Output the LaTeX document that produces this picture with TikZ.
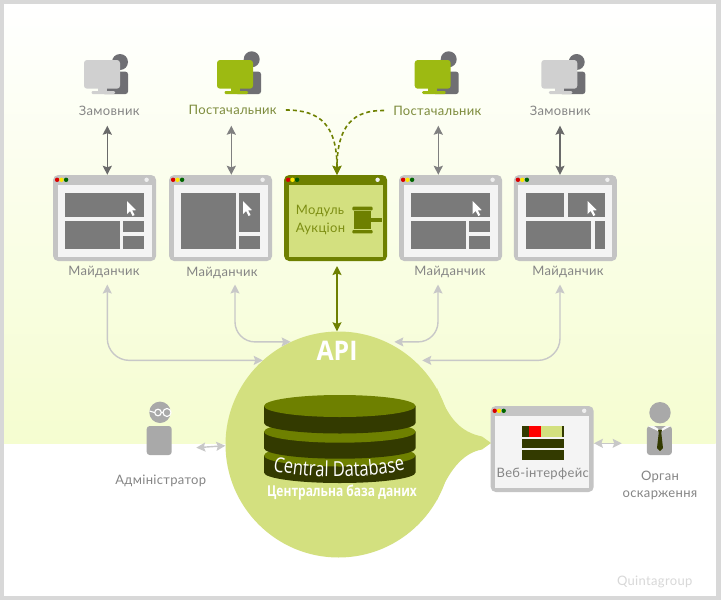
\documentclass[tikz,border=0pt]{standalone}
\usepackage{fontspec}
\setmainfont{Lato}
\newfontfamily\lblfont{Lato}[LetterSpace=2.5]
\newfontfamily\condfont{Open Sans}[FakeStretch=0.8]
\newfontfamily\apifont{Open Sans}[FakeStretch=0.92]
\usetikzlibrary{arrows.meta,decorations.text,calc}
\definecolor{frameC}{HTML}{D8D8D8}
\definecolor{bgC}{HTML}{F5FDD0}
\definecolor{winC}{HTML}{C4C4C4}
\definecolor{innerC}{HTML}{F4F4F4}
\definecolor{panelC}{HTML}{7A7A7A}
\definecolor{oliveC}{HTML}{6E8000}
\definecolor{limeC}{HTML}{D3E07F}
\definecolor{greenC}{HTML}{9DBA12}
\definecolor{monC}{HTML}{D0D0D0}
\definecolor{persC}{HTML}{6F6F73}
\definecolor{txtC}{HTML}{858585}
\definecolor{txtG}{HTML}{7D8B3C}
\definecolor{arrC}{HTML}{6A6A6A}
\definecolor{lightArr}{HTML}{C8C8C8}
\definecolor{darkDisk}{HTML}{333A00}
\definecolor{manC}{HTML}{A9A9A9}
\tikzset{
  lbl/.style={inner sep=0pt,font=\lblfont\fontsize{13}{17}\selectfont,text=txtC,align=center},
  lblg/.style={lbl,text=txtG},
  winbox/.style={draw=none,fill=winC,rounded corners=5pt,minimum width=103pt,minimum height=86pt,inner sep=0pt},
  modbox/.style={winbox,fill=oliveC},
  webbox/.style={winbox},
  panel/.style={fill=panelC},
  darr/.style={draw=arrC,line width=1.4pt,{Stealth[length=9pt,width=9pt,inset=1.5pt]}-{Stealth[length=9pt,width=9pt,inset=1.5pt]}},
  garr/.style={draw=lightArr,line width=1.4pt,rounded corners=22pt,{Stealth[length=9pt,width=9pt,inset=1.5pt]}-{Stealth[length=9pt,width=9pt,inset=1.5pt]}},
  harr/.style={draw=lightArr,line width=1.4pt,{Stealth[length=9pt,width=9pt,inset=1.5pt]}-{Stealth[length=9pt,width=9pt,inset=1.5pt]}},
  oarr/.style={draw=oliveC,line width=1.6pt,{Stealth[length=9pt,width=9pt,inset=1.5pt]}-{Stealth[length=9pt,width=9pt,inset=1.5pt]}},
  dasharr/.style={draw=oliveC,line width=1.6pt,dash pattern=on 4pt off 3pt,-{Stealth[length=9pt,width=9pt,inset=1.5pt]}},
}
\newcommand\wchrome[3]{%
  \fill[#2] ($(#1.south west)+(4.7,-4.5)$) rectangle ($(#1.north east)+(-4.7,10)$);
  \fill[red!85!black] ($(#1.north west)+(4.2,5)$) circle (2.2);
  \fill[yellow!90!orange] ($(#1.north west)+(8.6,5)$) circle (2.2);
  \fill[#3] ($(#1.north west)+(13.2,5)$) circle (2.2);
  \fill[innerC!90!winC] ($(#1.north east)+(-9.7,5)$) circle (2.2);
}
\newcommand\monitorfig[4]{%
  \fill[persC] (#3,#4) circle (8);
  \fill[persC,rounded corners=2.5pt] (#1+18,71.7) rectangle (#1+44,94);
  \fill[#2,rounded corners=3pt] (#1,60) rectangle (#1+36,88.7);
  \fill[#2] (#1+13.5,88) rectangle (#1+22.5,91.5);
  \fill[#2,rounded corners=1.2pt] (#1+7.5,91) rectangle (#1+31,94);
}
\newcommand\cursorat[2]{%
  \fill[white] (#1,#2) -- ++(0,13) -- ++(3,-3) -- ++(2.6,5) -- ++(2,-1) -- ++(-2.5,-4.6) -- ++(4,-.2) -- cycle;
}
\newcommand\diskfig[2]{%
  \fill[darkDisk] (264,#1) -- (264,#1+#2) arc[start angle=180,end angle=360,x radius=75.8,y radius=-10.5] -- (415.6,#1) -- cycle;
  \fill[oliveC] (339.8,#1) ellipse[x radius=75.8,y radius=11];
}
\begin{document}
\begin{tikzpicture}[x=1pt,y=-1pt]
\useasboundingbox (0,0) rectangle (721,600);
\fill[frameC] (0,0) rectangle (721,600);
\fill[white] (4,4) rectangle (715.5,596);
\shade[top color=white,bottom color=bgC] (4,4) rectangle (715.5,443);
% circle with tail
\node[circle,fill=limeC,minimum size=226pt,inner sep=0pt] (api) at (338.5,444.5) {};
\fill[limeC] (437,388) .. controls (448,418) and (460,432) .. (482,436.5) -- (491,443) -- (482,449.5) .. controls (462,453) and (448,472) .. (437,500) -- cycle;
\node[inner sep=0pt,font=\apifont\bfseries\fontsize{27}{27}\selectfont,text=white] (apit) at (337,351) {API};
% database
\diskfig{455.5}{17}
\diskfig{431.7}{16.5}
\diskfig{406}{17}
\path[decorate,decoration={text along path,text align=center,text={|\condfont\fontsize{20.7}{21}\selectfont\color{white}|Central Database}}] (268,470) .. controls (310,479) and (370,479) .. (410,469);
\node[inner sep=0pt,font=\condfont\bfseries\fontsize{15}{16}\selectfont,text=white] (cdb) at (342,493) {Центральна база даних};
% monitors
\monitorfig{84}{monC}{120}{62}
\monitorfig{217}{greenC}{251.7}{59.3}
\monitorfig{414.7}{greenC}{448.7}{59.3}
\monitorfig{541.3}{monC}{576.7}{62}
\node[lbl] (z1) at (109.3,110.5) {Замовник};
\node[lblg] (p2) at (232.7,110) {Постачальник};
\node[lblg] (p3) at (437.3,110.5) {Постачальник};
\node[lbl] (z4) at (560.3,110.5) {Замовник};
% windows
\node[winbox] (w1) at (104.6,218) {};
\node[winbox] (w2) at (220.6,218) {};
\node[modbox] (m) at (335.6,218) {};
\node[winbox] (w4) at (450.6,218) {};
\node[winbox] (w5) at (565.4,218) {};
\wchrome{w1}{innerC}{green!40!black}
\wchrome{w2}{innerC}{green!40!black}
\wchrome{m}{limeC}{green!35!black}
\wchrome{w4}{innerC}{green!40!black}
\wchrome{w5}{innerC}{green!40!black}
\fill[panel] (65,193) rectangle (144.3,217);
\fill[panel] (65,221) rectangle (119.7,249);
\fill[panel] (123.3,221) rectangle (144.3,232);
\fill[panel] (123.3,236) rectangle (144.3,249);
\cursorat{127}{201}
\fill[panel] (180.7,193) rectangle (235.7,249);
\fill[panel] (239.3,193) rectangle (260.3,232);
\fill[panel] (239.3,236) rectangle (260.3,249);
\cursorat{243}{201}
\fill[panel] (410.7,193) rectangle (490.3,217);
\fill[panel] (410.7,221) rectangle (465.7,249);
\fill[panel] (469.3,221) rectangle (490.3,232);
\fill[panel] (469.3,236) rectangle (490.3,249);
\cursorat{472.7}{201}
\fill[panel] (525.7,193) rectangle (564,217);
\fill[panel] (567.7,193) rectangle (605,217);
\fill[panel] (525.7,221) rectangle (591,249);
\fill[panel] (594.7,221) rectangle (605,249);
\cursorat{587.7}{201}
% module contents
\node[lblg,text=oliveC!85!limeC,align=left,anchor=west,font=\lblfont\fontsize{13}{18.3}\selectfont] (mt) at (295.7,219.8) {Модуль\\Аукціон};
\fill[oliveC,rounded corners=1pt] (352.3,206.7) rectangle (372.7,210.3);
\fill[oliveC] (354,211) rectangle (371,228.7);
\fill[oliveC] (371,217.7) rectangle (382,222.3);
\fill[oliveC,rounded corners=1pt] (352.3,230) rectangle (372.7,233.3);
% window labels
\node[lbl] (l1) at (104,271.7) {Майданчик};
\node[lbl] (l2) at (222,272.7) {Майданчик};
\node[lbl] (l4) at (450,271.7) {Майданчик};
\node[lbl] (l5) at (568,271.7) {Майданчик};
% vertical arrows
\coordinate (a1) at (107.3,125.7);
\coordinate (a2) at (231.3,125.7);
\coordinate (a4) at (438.3,125.7);
\coordinate (a5) at (560,125.7);
\draw[darr] (a1) -- (a1 |- w1.north);
\draw[darr,draw=arrC!85!white] (a2) -- (a2 |- w2.north);
\draw[darr,draw=arrC!85!white] (a4) -- (a4 |- w4.north);
\draw[darr] (a5) -- (a5 |- w5.north);
% dashed
\coordinate (dt) at (337,175);
\draw[dasharr] ([xshift=9pt]p2.east) .. controls (320,110) and (337,125) .. (dt |- m.north);
\draw[dasharr] ([xshift=-9pt]p3.west) .. controls (354,110) and (337,125) .. (dt |- m.north);
% module to API
\coordinate (mb) at (337,266);
\draw[oarr] (mb) -- (mb |- api.north);
% gray curved arrows
\coordinate (g1) at (107.3,284.5);
\coordinate (g2) at (235,284.5);
\coordinate (g4) at (438,284.5);
\coordinate (g5) at (560,284.5);
\draw[garr] (g1) |- (api.132);
\draw[garr,rounded corners=20pt] (g2) |- (api.115);
\draw[garr,rounded corners=20pt] (g4) |- ([xshift=8pt]api.65);
\draw[garr] (g5) |- ([xshift=8pt]api.48);
% admin
\node[circle,fill=manC,minimum size=21.4pt,inner sep=0pt] (ah) at (160,412.3) {};
\node[fill=manC,rounded corners=3pt,minimum width=25pt,minimum height=29pt,inner sep=0pt] (ab) at (159.2,440.5) {};
\draw[white,line width=1.1pt] (149.5,411) -- (154.5,412.5) (158,412.5) circle (3.3) (161.3,412.5) -- (163,412.5) (167,412.5) circle (4);
\node[lbl] (al) at (160.7,480.7) {Адміністратор};
\draw[harr] ([xshift=-29pt,yshift=-3.2pt]api.west) -- ([yshift=-1.2pt]api.west);
% web interface
\node[webbox] (web) at (542.2,449) {};
\wchrome{web}{innerC}{green!40!black}
\fill[darkDisk] (522,426) rectangle (564,437.3);
\fill[red] (529.3,426) rectangle (541.3,437.3);
\fill[limeC] (541.3,426) rectangle (561.7,437.3);
\fill[darkDisk] (522,438.7) rectangle (564,448.3);
\fill[darkDisk] (522,450) rectangle (564,460);
\node[lbl] (wl) at (542.7,474.3) {Веб-інтерфейс};
% organ
\node[circle,fill=manC,minimum size=21.4pt,inner sep=0pt] (oh) at (660,412.7) {};
\node[fill=manC,rounded corners=3pt,minimum width=25pt,minimum height=29pt,inner sep=0pt] (ob) at (659.4,440.5) {};
\fill[white!92!manC] (647.5,426) -- (654,426) -- (660,430) -- (666,426) -- (671,426) -- (660,432) -- cycle;
\fill[darkDisk] (658,429.5) -- (662,429.5) -- (661.3,433) -- (663,448) -- (660,451) -- (657,448) -- (658.7,433) -- cycle;
\node[lbl] (ol) at (660,485) {Орган\\оскарження};
\coordinate (ha) at (621.7,443.3);
\draw[harr] (web.east |- ha) -- (ha);
% watermark
\node[lbl,text=frameC] (q) at (654.7,581.7) {Quintagroup};
\end{tikzpicture}
\end{document}
